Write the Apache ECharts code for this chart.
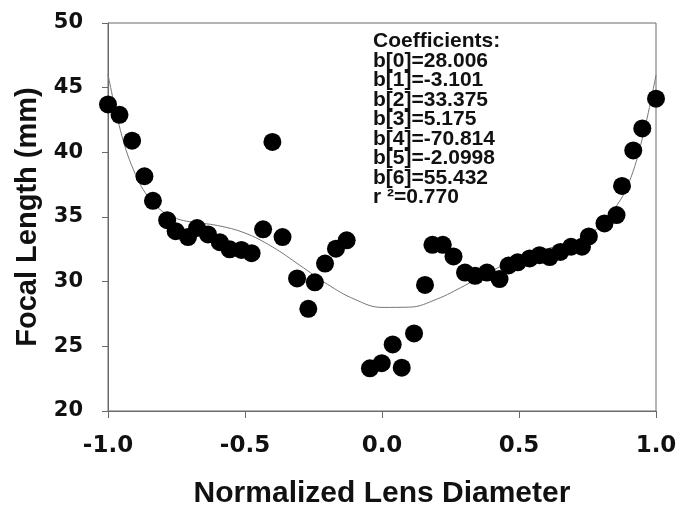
<!DOCTYPE html>
<html><head><meta charset="utf-8">
<script src="https://cdn.jsdelivr.net/npm/echarts@6/dist/echarts.min.js"></script>
<style>html,body{margin:0;padding:0;background:#fff}#c{width:680px;height:507px}</style>
</head><body><div id="c"></div>
<script>
// Measured data points (normalized lens diameter, focal length mm)
const pointX = [-1.0,-0.958,-0.912,-0.867,-0.836,-0.784,-0.753,-0.708,-0.675,-0.635,-0.592,-0.556,-0.513,-0.476,-0.434,-0.40,-0.363,-0.310,-0.269,-0.245,-0.208,-0.168,-0.129,-0.044,-0.001,0.039,0.072,0.117,0.157,0.184,0.222,0.261,0.303,0.340,0.383,0.429,0.462,0.495,0.539,0.575,0.612,0.651,0.690,0.730,0.755,0.812,0.856,0.876,0.917,0.950,1.0];
const pointY = [43.7,42.9,40.9,38.15,36.25,34.75,33.9,33.45,34.15,33.65,33.05,32.5,32.45,32.2,34.05,40.8,33.45,30.25,27.9,29.95,31.4,32.55,33.2,23.3,23.7,25.15,23.35,26.0,29.75,32.85,32.85,31.95,30.7,30.45,30.7,30.2,31.25,31.5,31.8,32.05,31.9,32.3,32.7,32.7,33.5,34.5,35.15,37.4,40.15,41.85,44.15];
// Fitted curve
const curveX = [-1.0,-0.95,-0.9,-0.85,-0.8,-0.75,-0.7,-0.6,-0.5,-0.4,-0.3,-0.2,-0.1,0.0,0.1,0.2,0.3,0.4,0.5,0.6,0.7,0.75,0.8,0.85,0.9,0.95,1.0];
const curveY = [46.02,41.33,38.30,36.45,35.41,34.88,34.63,34.34,33.76,32.69,31.27,29.81,28.64,28.01,28.03,28.65,29.68,30.83,31.82,32.52,33.13,33.60,34.37,35.67,37.58,41.06,45.97];
const xTicks = [-1.0,-0.5,0.0,0.5,1.0];
const yTicks = [20,25,30,35,40,45,50];
const coefLines = ["Coefficients:","b[0]=28.006","b[1]=-3.101","b[2]=33.375","b[3]=5.175","b[4]=-70.814","b[5]=-2.0998","b[6]=55.432","r \u00b2=0.770"];

const font = "'Liberation Sans', Arial, sans-serif";
const tickFont = "'DejaVu Sans', sans-serif";
const axisCol = '#6a6a6a';
const chart = echarts.init(document.getElementById('c'), null, {renderer:'canvas'});
chart.setOption({
  animation:false,
  backgroundColor:'#fff',
  grid:{left:108,right:24,top:23,bottom:96,containLabel:false,outerBoundsMode:'none',show:true,borderColor:axisCol,borderWidth:1},
  xAxis:{type:'value',min:xTicks[0],max:xTicks[xTicks.length-1],interval:0.5,
    axisLine:{onZero:false,lineStyle:{color:axisCol,width:1}},
    axisTick:{show:true,length:7,lineStyle:{color:axisCol}},
    splitLine:{show:false},
    axisLabel:{margin:24,fontFamily:tickFont,fontWeight:'bold',fontSize:23,color:'#111',formatter:v=>v.toFixed(1)},
    name:'Normalized Lens Diameter',nameLocation:'middle',nameGap:68,
    nameTextStyle:{fontFamily:font,fontWeight:'bold',fontSize:30,color:'#111'}},
  yAxis:{type:'value',min:yTicks[0],max:yTicks[yTicks.length-1],interval:5,
    axisLine:{show:true,onZero:false,lineStyle:{color:axisCol,width:1}},
    axisTick:{show:true,length:6,lineStyle:{color:axisCol}},
    splitLine:{show:false},
    axisLabel:{margin:25,fontFamily:tickFont,fontWeight:'bold',fontSize:21,color:'#111'},
    name:'Focal Length (mm)',nameLocation:'middle',nameGap:66,nameRotate:90,
    nameTextStyle:{fontFamily:font,fontWeight:'bold',fontSize:29,color:'#111'}},
  series:[
    {type:'line',data:curveX.map((x,i)=>[x,curveY[i]]),smooth:0.4,showSymbol:false,symbol:'none',
      lineStyle:{color:'#777',width:1},z:1,clip:false},
    {type:'scatter',data:pointX.map((x,i)=>[x,pointY[i]]),symbol:'circle',symbolSize:18,
      itemStyle:{color:'#000',opacity:1},z:2,clip:false}
  ],
  graphic:[{type:'text',left:373,top:31,style:{text:coefLines.join('\n'),fontFamily:font,fontWeight:'bold',fontSize:21,lineHeight:19.5,fill:'#111'}}]
});
</script></body></html>
